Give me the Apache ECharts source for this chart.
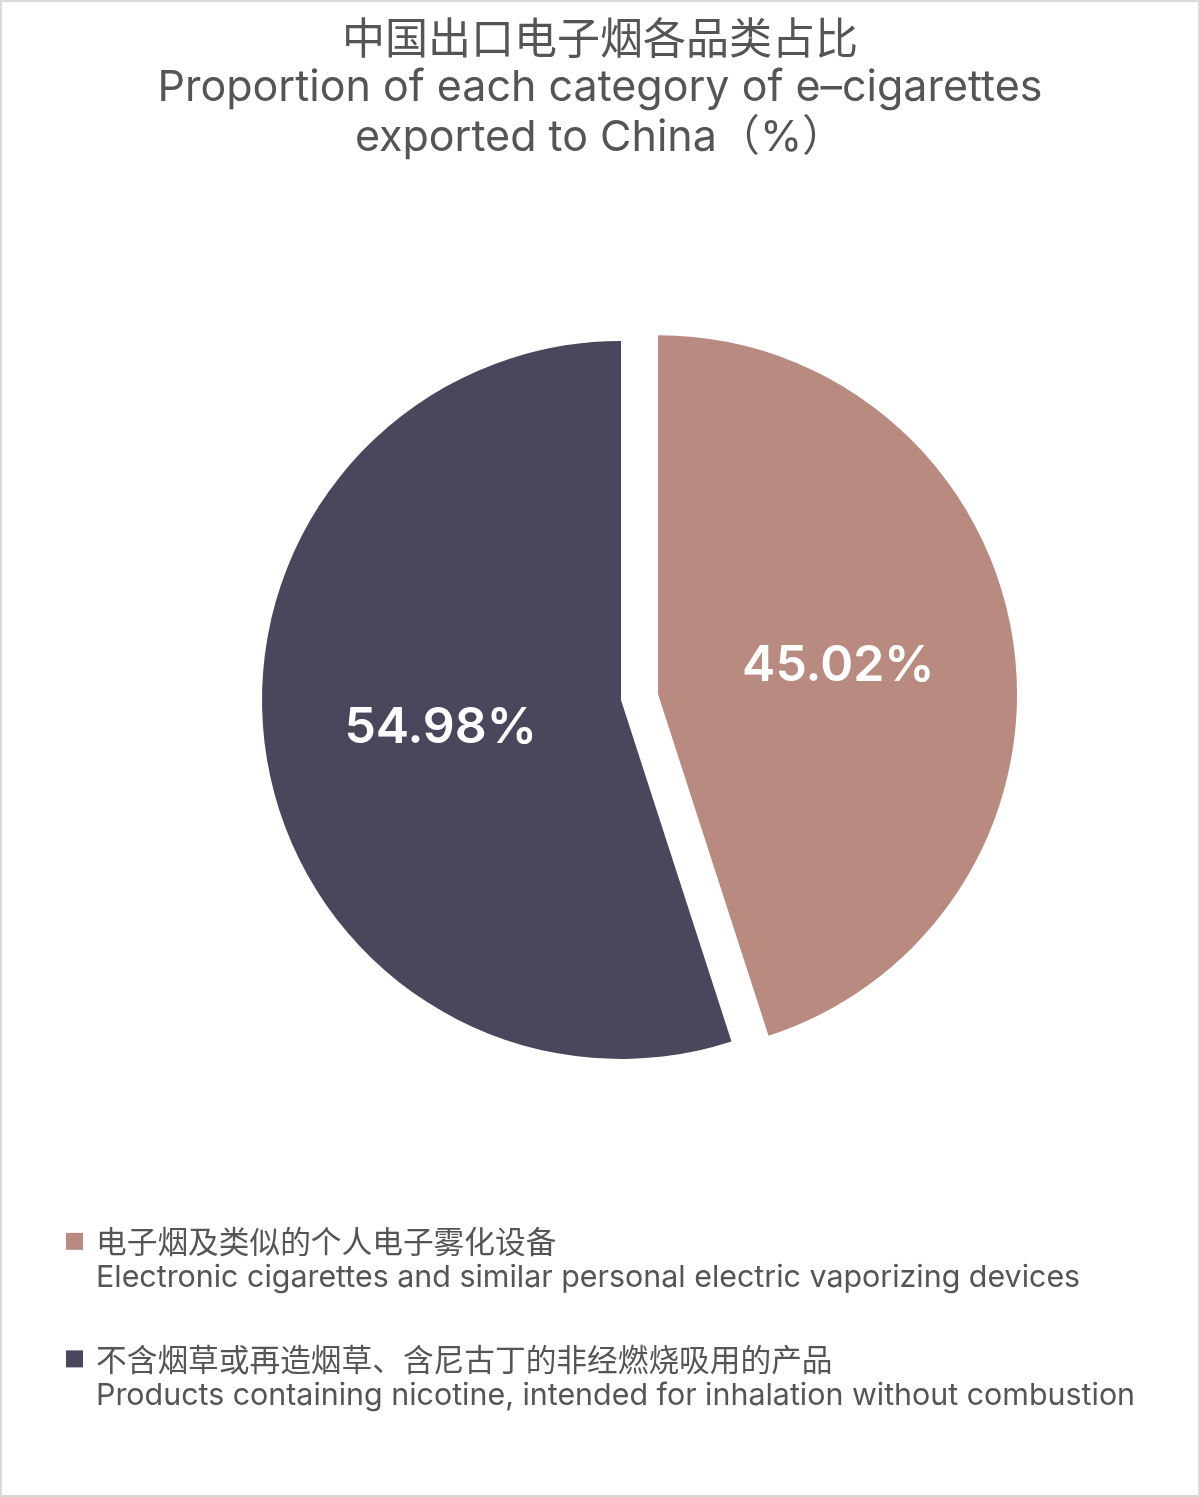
<!DOCTYPE html>
<html>
<head>
<meta charset="utf-8">
<title>中国出口电子烟各品类占比</title>
<script src="https://cdn.jsdelivr.net/npm/echarts@6/dist/echarts.min.js"></script>
<style>
  html, body { margin: 0; padding: 0; background: #fff; }
  #chart { width: 1200px; height: 1497px; }
</style>
</head>
<body>
<div id="chart"></div>
<script>
// 数据
const categoriesZh = ['电子烟及类似的个人电子雾化设备', '不含烟草或再造烟草、含尼古丁的非经燃烧吸用的产品'];
const categoriesEn = ['Electronic cigarettes and similar personal electric vaporizing devices', 'Products containing nicotine, intended for inhalation without combustion'];
const shares = [45.02, 54.98];
const colors = ['#b98a80', '#4a465c'];

const FONT_EN = "Inter, 'Noto Sans CJK SC', sans-serif";
const FONT_ZH = "'Noto Sans CJK SC', sans-serif";

const chart = echarts.init(document.getElementById('chart'));

chart.setOption({
  animation: false,
  backgroundColor: '#fff',
  color: colors,
  title: {
    left: 'center',
    top: 8,
    text: '{zh|中国出口电子烟各品类占比}\n{en|Proportion of each category of e–cigarettes}\n{en|exported to China（%）}',
    textStyle: {
      fontWeight: 'normal',
      rich: {
        zh: { fontFamily: FONT_ZH, fontSize: 43, fontWeight: 'normal', color: '#555', lineHeight: 50, align: 'center' },
        en: { fontFamily: FONT_EN, fontSize: 43, fontWeight: 'normal', color: '#555', lineHeight: 50, align: 'center' },
      },
    },
  },
  legend: {
    orient: 'vertical',
    left: 61,
    top: 1221,
    itemWidth: 17,
    itemHeight: 17,
    itemGap: 50,
    icon: 'rect',
    selectedMode: false,
    data: categoriesZh,
    formatter: name => {
      let i = categoriesZh.indexOf(name);
      return '{zh|' + name + '}\n{en|' + categoriesEn[i] + '}';
    },
    textStyle: {
      padding: [37, 0, 0, 8],
      rich: {
        zh: { fontFamily: FONT_ZH, fontSize: 30.7, color: '#555', lineHeight: 37 },
        en: { fontFamily: FONT_EN, fontSize: 30.4, color: '#555', lineHeight: 37 },
      },
    },
  },
  graphic: [
    {
      type: 'rect',
      shape: { x: 1, y: 1, width: 1198, height: 1495 },
      style: { fill: 'none', stroke: '#d9d9d9', lineWidth: 2 },
      silent: true,
    },
  ],
  series: [
    {
      type: 'pie',
      center: [621, 700],
      radius: 359,
      startAngle: 90,
      clockwise: true,
      selectedMode: 'single',
      selectedOffset: 37.5,
      avoidLabelOverlap: false,
      label: {
        show: true,
        position: 'inner',
        color: '#fff',
        fontFamily: FONT_EN,
        fontSize: 50,
        fontWeight: 600,
        formatter: p => p.value.toFixed(2) + '%',
      },
      labelLine: { show: false },
      emphasis: { disabled: true },
      data: categoriesZh.map((name, i) => ({
        name: name,
        value: shares[i],
        selected: i === 0,
      })),
    },
  ],
});
</script>
</body>
</html>
